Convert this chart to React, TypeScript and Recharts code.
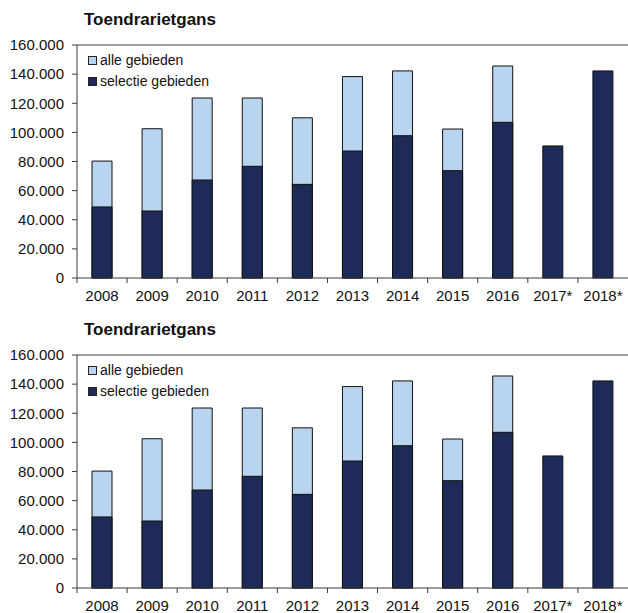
import React from "react";
import { BarChart, Bar, XAxis, YAxis, Legend, ReferenceLine } from "recharts";

const years = ["2008", "2009", "2010", "2011", "2012", "2013", "2014", "2015", "2016", "2017*", "2018*"];
// alle gebieden (totaal); null where no total was counted
const alleGebieden = [80300, 102500, 123600, 123600, 110000, 138300, 142200, 102300, 145600, null, null];
// selectie gebieden
const selectieGebieden = [48800, 46000, 67300, 76700, 64300, 87200, 97700, 73700, 106900, 90700, 142200];
const yTicks = [0, 20000, 40000, 60000, 80000, 100000, 120000, 140000, 160000];

const data = years.map((year, i) => ({
  year,
  alle: alleGebieden[i],
  selectie: selectieGebieden[i],
}));

const LIGHT = "#b9d4ee";
const DARK = "#1e2b59";
const AXIS = "#3a3a3a";
const FONT = "'Liberation Sans', Arial, sans-serif";

const CHART_W = 628;
const CHART_H = 310;
const Y_W = 77;
const BAND = (CHART_W - Y_W) / years.length;

const fmt = (v: number) => String(v).replace(/\B(?=(\d{3})+(?!\d))/g, ".");

const YearTick = (props: any) => {
  const { x, y, payload } = props;
  const axisY = y - 12;
  return (
    <g>
      <line x1={x - BAND / 2} x2={x - BAND / 2} y1={axisY} y2={axisY + 5} stroke={AXIS} />
      <text x={x} y={y} dy="0.71em" textAnchor="middle" fill="#111" fontSize={15} fontFamily={FONT}>
        {payload.value}
      </text>
    </g>
  );
};

const LegendBox = () => {
  const items = [
    { label: "alle gebieden", color: LIGHT },
    { label: "selectie gebieden", color: DARK },
  ];
  return (
    <div style={{ fontFamily: FONT, fontSize: 14, color: "#111" }}>
      {items.map((it) => (
        <div key={it.label} style={{ display: "flex", alignItems: "center", height: 21 }}>
          <span
            style={{
              display: "inline-block",
              width: 7,
              height: 7,
              background: it.color,
              border: "1px solid #222",
              marginRight: 3,
            }}
          />
          <span>{it.label}</span>
        </div>
      ))}
    </div>
  );
};

const Panel = ({ top }: { top: number }) => (
  <div style={{ position: "absolute", left: 0, top, width: CHART_W, height: CHART_H }}>
    <div
      style={{
        position: "absolute",
        left: 84,
        top: 11,
        fontFamily: FONT,
        fontWeight: "bold",
        fontSize: 17,
        lineHeight: "17px",
        color: "#111",
        zIndex: 2,
      }}
    >
      Toendrarietgans
    </div>
    <BarChart
      width={CHART_W}
      height={CHART_H}
      data={data}
      margin={{ top: 45, right: 0, bottom: 0, left: 0 }}
      barSize={20}
      barGap={-20}
    >
      <XAxis
        dataKey="year"
        height={32}
        axisLine={{ stroke: AXIS }}
        tickLine={false}
        tickSize={5}
        tickMargin={7}
        interval={0}
        tick={<YearTick />}
      />
      <YAxis
        width={Y_W}
        domain={[0, 160000]}
        ticks={yTicks}
        tickFormatter={fmt}
        axisLine={{ stroke: AXIS }}
        tickLine={{ stroke: AXIS }}
        tickSize={5}
        tickMargin={8}
        tick={{ fill: "#111", fontSize: 15, fontFamily: FONT }}
        interval={0}
      />
      <ReferenceLine y={160000} stroke={AXIS} />
      <Legend
        layout="vertical"
        align="center"
        verticalAlign="middle"
        content={<LegendBox />}
        wrapperStyle={{ position: "absolute", left: 88, top: 49.5, width: "auto" }}
      />
      <Bar dataKey="alle" name="alle gebieden" fill={LIGHT} stroke="#111" strokeWidth={1} isAnimationActive={false} />
      <Bar dataKey="selectie" name="selectie gebieden" fill={DARK} stroke="#111" strokeWidth={1} isAnimationActive={false} />
    </BarChart>
  </div>
);

export default function App() {
  return (
    <div
      style={{
        position: "absolute",
        left: 0,
        top: 0,
        width: 628,
        height: 613,
        overflow: "hidden",
        background: "#fff",
      }}
    >
      <Panel top={0} />
      <Panel top={310} />
    </div>
  );
}
